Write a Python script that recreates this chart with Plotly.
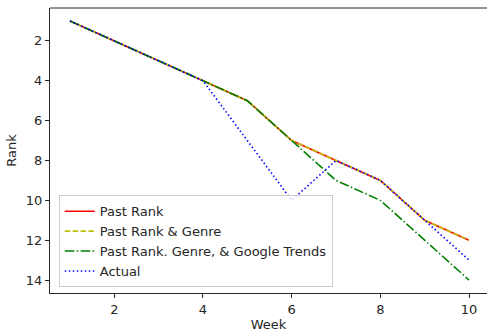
import plotly.graph_objects as go

weeks = [1, 2, 3, 4, 5, 6, 7, 8, 9, 10]
past_rank = [1, 2, 3, 4, 5, 7, 8, 9, 11, 12]
past_rank_genre = [1, 2, 3, 4, 5, 7, 8, 9, 11, 12]
past_rank_genre_trends = [1, 2, 3, 4, 5, 7, 9, 10, 12, 14]
actual = [1, 2, 3, 4, 7, 10, 8, 9, 11, 13]

series = [
    ("Past Rank", past_rank, "#ff0000", "solid"),
    ("Past Rank & Genre", past_rank_genre, "#bfbf00", "5.5px,2.4px"),
    ("Past Rank. Genre, & Google Trends", past_rank_genre_trends, "#008000", "9.6px,2.4px,1.5px,2.4px"),
    ("Actual", actual, "#0000ff", "1.5px,2.5px"),
]

fig = go.Figure()
for name, vals, color, dash in series:
    fig.add_trace(go.Scatter(x=weeks, y=vals, mode="lines", name=name,
                             line=dict(color=color, width=1.6, dash=dash)))

font = dict(family="DejaVu Sans", size=13, color="#262626")
fig.update_layout(
    width=487, height=333,
    margin=dict(l=50, r=0, t=8, b=40),
    paper_bgcolor="white", plot_bgcolor="white",
    font=font,
    showlegend=True,
    legend=dict(x=0.02, y=0.02, xanchor="left", yanchor="bottom",
                bgcolor="rgba(255,255,255,0.8)", bordercolor="#cccccc", borderwidth=1,
                font=dict(family="DejaVu Sans", size=13, color="#262626"),
                tracegroupgap=0, itemwidth=30),
    xaxis=dict(range=[0.55, 10.405], tickvals=[2, 4, 6, 8, 10], showgrid=False, zeroline=False,
               showline=True, linecolor="#262626", linewidth=1,
               ticks="outside", ticklen=4, tickcolor="#262626",
               title=dict(text="Week", font=font, standoff=4)),
    yaxis=dict(range=[14.65, 0.35], tickvals=[2, 4, 6, 8, 10, 12, 14], showgrid=False, zeroline=False,
               showline=True, linecolor="#262626", linewidth=1,
               ticks="outside", ticklen=4, tickcolor="#262626",
               title=dict(text="Rank", font=font, standoff=6)),
)
fig.add_shape(type="line", xref="paper", yref="paper", x0=0, x1=1, y0=1, y1=1,
              line=dict(color="#262626", width=1))
fig.write_html("out.html")
